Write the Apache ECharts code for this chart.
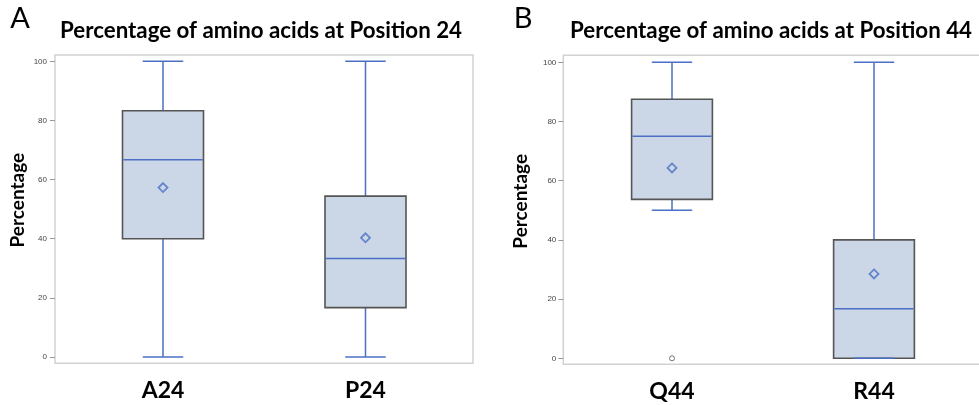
<!DOCTYPE html>
<html>
<head>
<meta charset="utf-8">
<script src="https://cdn.jsdelivr.net/npm/echarts@6/dist/echarts.min.js"></script>
<style>html,body{margin:0;padding:0;background:#fff;}#c{width:979px;height:405px;}</style>
</head>
<body>
<div id="c"></div>
<script>
// Panel A data
const categoriesA = ['A24', 'P24'];
const minA = [0, 0];
const q1A = [40, 16.7];
const medianA = [66.7, 33.3];
const q3A = [83.3, 54.4];
const maxA = [100, 100];
const meanA = [57.3, 40.3];

// Panel B data
const categoriesB = ['Q44', 'R44'];
const minB = [50, 0];
const q1B = [53.7, 0];
const medianB = [75, 16.7];
const q3B = [87.5, 40];
const maxB = [100, 100];
const meanB = [64.3, 28.5];
const outliersB = [[0, 0]];

const yTicks = [0, 20, 40, 60, 80, 100];

const BLUE = '#4a6fc4';
const FILL = '#cbd6e6';
const EDGE = '#555555';

function boxData(mins, q1s, meds, q3s, maxs) {
  return mins.map((m, i) => [i, m, q1s[i], meds[i], q3s[i], maxs[i]]);
}

function renderBox(params, api) {
  const x = api.value(0);
  const pMin = api.coord([x, api.value(1)]);
  const pQ1 = api.coord([x, api.value(2)]);
  const pMed = api.coord([x, api.value(3)]);
  const pQ3 = api.coord([x, api.value(4)]);
  const pMax = api.coord([x, api.value(5)]);
  const band = api.size([1, 0])[0];
  const bw = band * 0.4;
  const cw = band * 0.2;
  const cx = pMed[0];
  const line = (x1, y1, x2, y2, color, w) => ({
    type: 'line',
    shape: { x1, y1, x2, y2 },
    style: { stroke: color, lineWidth: w }
  });
  return {
    type: 'group',
    children: [
      line(cx, pQ3[1], cx, pMax[1], BLUE, 1.5),
      line(cx, pMin[1], cx, pQ1[1], BLUE, 1.5),
      {
        type: 'rect',
        shape: { x: cx - bw / 2, y: pQ3[1], width: bw, height: pQ1[1] - pQ3[1] },
        style: { fill: FILL, stroke: EDGE, lineWidth: 1.6 }
      },
      line(cx - bw / 2 + 0.8, pMed[1], cx + bw / 2 - 0.8, pMed[1], BLUE, 1.5),
      line(cx - cw / 2, pMax[1], cx + cw / 2, pMax[1], BLUE, 1.5),
      line(cx - cw / 2, pMin[1], cx + cw / 2, pMin[1], BLUE, 1.5)
    ]
  };
}

function yAxisDef(gridIndex, offset, margin, nameGap) {
  return {
    type: 'value', gridIndex, min: 0, max: 100, interval: 20, offset,
    name: 'Percentage', nameLocation: 'middle', nameGap,
    nameTextStyle: { fontFamily: 'Lato', fontWeight: 'bold', fontSize: 19, color: '#000',
      padding: [0, 0, 0, 18] },
    axisLine: { show: false },
    splitLine: { show: false },
    axisTick: { show: true, length: 5, lineStyle: { color: '#999', width: 1 } },
    axisLabel: { fontFamily: 'Liberation Sans', fontSize: 8, color: '#444', margin,
      customValues: yTicks }
  };
}

function xAxisDef(gridIndex, data) {
  return {
    type: 'category', gridIndex, data,
    axisLine: { show: false }, axisTick: { show: false }, splitLine: { show: false },
    axisLabel: { fontFamily: 'Lato', fontWeight: 'bold', fontSize: 23, color: '#000', margin: 22 }
  };
}

const chart = echarts.init(document.getElementById('c'), null, { renderer: 'canvas' });
chart.setOption({
  backgroundColor: '#fff',
  animation: false,
  grid: [
    { left: 61.75, top: 61.3, width: 405, height: 295.7 },
    { left: 571, top: 62.3, width: 404, height: 296 }
  ],
  xAxis: [xAxisDef(0, categoriesA), xAxisDef(1, categoriesB)],
  yAxis: [yAxisDef(0, 6.75, 8, 28), yAxisDef(1, 7.7, 7, 33)],
  graphic: [
    { type: 'rect', z: -10, shape: { x: 55, y: 55, width: 418, height: 308.3 },
      style: { fill: null, stroke: '#d2d2d2', lineWidth: 1.5 } },
    { type: 'rect', z: -10, shape: { x: 563.3, y: 55.3, width: 440, height: 309 },
      style: { fill: null, stroke: '#d2d2d2', lineWidth: 1.5 } },
    { type: 'text', x: 20, y: 19, style: { text: 'A', fontFamily: 'Lato', fontSize: 29,
      fill: '#000', align: 'center', verticalAlign: 'middle' } },
    { type: 'text', x: 523, y: 19, style: { text: 'B', fontFamily: 'Lato', fontSize: 29,
      fill: '#000', align: 'center', verticalAlign: 'middle' } },
    { type: 'text', x: 261, y: 31, style: { text: 'Percentage of amino acids at Position 24',
      fontFamily: 'Lato', fontWeight: 'bold', fontSize: 22.3, fill: '#000', align: 'center', verticalAlign: 'middle' } },
    { type: 'text', x: 771, y: 31, style: { text: 'Percentage of amino acids at Position 44',
      fontFamily: 'Lato', fontWeight: 'bold', fontSize: 22.3, fill: '#000', align: 'center', verticalAlign: 'middle' } }
  ],
  series: [
    { type: 'custom', xAxisIndex: 0, yAxisIndex: 0, renderItem: renderBox,
      encode: { x: 0, y: [1, 2, 3, 4, 5] },
      data: boxData(minA, q1A, medianA, q3A, maxA) },
    { type: 'scatter', xAxisIndex: 0, yAxisIndex: 0, symbol: 'diamond', symbolSize: 9,
      itemStyle: { color: FILL, borderColor: BLUE, borderWidth: 1.8 },
      data: meanA.map((v, i) => [i, v]), z: 5 },
    { type: 'custom', xAxisIndex: 1, yAxisIndex: 1, renderItem: renderBox,
      encode: { x: 0, y: [1, 2, 3, 4, 5] },
      data: boxData(minB, q1B, medianB, q3B, maxB) },
    { type: 'scatter', xAxisIndex: 1, yAxisIndex: 1, symbol: 'diamond', symbolSize: 9,
      itemStyle: { color: FILL, borderColor: BLUE, borderWidth: 1.8 },
      data: meanB.map((v, i) => [i, v]), z: 5 },
    { type: 'scatter', xAxisIndex: 1, yAxisIndex: 1, symbol: 'circle', symbolSize: 5,
      itemStyle: { color: '#fff', borderColor: '#555', borderWidth: 1 },
      data: outliersB, z: 5 }
  ]
});
</script>
</body>
</html>
